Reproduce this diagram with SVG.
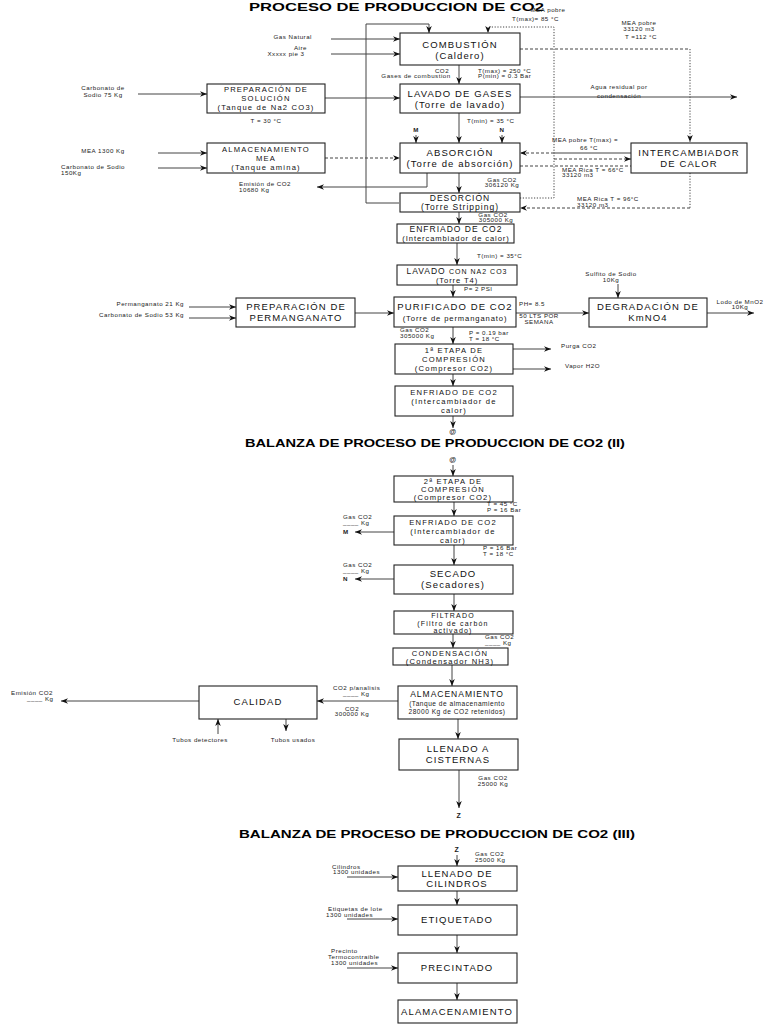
<svg xmlns="http://www.w3.org/2000/svg" width="768" height="1024" viewBox="0 0 768 1024">
<style>
.bx{fill:#fff;stroke:#222;stroke-width:1.1}
.t{font-family:"Liberation Sans",Arial,sans-serif;font-size:9.5px;text-anchor:middle;letter-spacing:1.1px;fill:#111}
.t2{font-family:"Liberation Sans",Arial,sans-serif;font-size:8.5px;text-anchor:middle;letter-spacing:1px;fill:#111}
.t3{font-family:"Liberation Sans",Arial,sans-serif;font-size:7.6px;text-anchor:middle;letter-spacing:1.2px;fill:#111}
.t8{font-family:"Liberation Sans",Arial,sans-serif;font-size:7.6px;text-anchor:middle;letter-spacing:0.9px;fill:#111}
.s{font-family:"Liberation Sans",Arial,sans-serif;font-size:6.2px;letter-spacing:0.5px;fill:#222}
.c{text-anchor:middle}
.e{text-anchor:end}
.b{font-weight:bold}
.ti{font-family:"Liberation Sans",Arial,sans-serif;font-size:11px;font-weight:bold;fill:#000}
.ln{fill:none;stroke:#444;stroke-width:1}
.ds{stroke-dasharray:3,2}
.dt{stroke-dasharray:1.2,1.6}
</style>
<defs>
<marker id="a" viewBox="0 0 10 10" refX="10" refY="5" markerWidth="7" markerHeight="7" markerUnits="userSpaceOnUse" orient="auto">
<path d="M0,1 L10,5 L0,9 L3,5 z" fill="#111"/>
</marker>
</defs>
<rect width="768" height="1024" fill="#fff"/>

<text class="ti" x="249" y="11" textLength="295" lengthAdjust="spacingAndGlyphs">PROCESO DE PRODUCCION DE CO2</text>
<text class="ti" x="245" y="447" textLength="380" lengthAdjust="spacingAndGlyphs">BALANZA DE PROCESO DE PRODUCCION DE CO2 (II)</text>
<text class="ti" x="239" y="838" textLength="396" lengthAdjust="spacingAndGlyphs">BALANZA DE PROCESO DE PRODUCCION DE CO2 (III)</text>

<g id="connectors">
<line class="ln" x1="331" y1="39" x2="400" y2="39" marker-end="url(#a)"/>
<line class="ln" x1="331" y1="54" x2="400" y2="54" marker-end="url(#a)"/>
<polyline class="ln" points="399,203 366,203 366,24 429,24 429,33" marker-end="url(#a)"/>
<polyline class="ln dt" points="520,198 554,198 554,27 488,27 488,33" marker-end="url(#a)"/>
<polyline class="ln ds" points="520,49 690,49"/>
<polyline class="ln dt" points="690,49 690,142" marker-end="url(#a)"/>
<line class="ln" x1="459" y1="65" x2="459" y2="84" marker-end="url(#a)"/>
<line class="ln" x1="325" y1="98" x2="400" y2="98" marker-end="url(#a)"/>
<line class="ln" x1="138" y1="94" x2="207" y2="94" marker-end="url(#a)"/>
<line class="ln" x1="520" y1="97" x2="737" y2="97" marker-end="url(#a)"/>
<line class="ln" x1="459" y1="113" x2="459" y2="143" marker-end="url(#a)"/>
<line class="ln" x1="416" y1="135" x2="416" y2="143" marker-end="url(#a)"/>
<line class="ln" x1="502" y1="135" x2="502" y2="143" marker-end="url(#a)"/>
<line class="ln" x1="158" y1="153" x2="207" y2="153" marker-end="url(#a)"/>
<line class="ln" x1="158" y1="168" x2="207" y2="168" marker-end="url(#a)"/>
<line class="ln ds" x1="325" y1="158" x2="400" y2="158" marker-end="url(#a)"/>
<line class="ln" x1="631" y1="153" x2="554" y2="153"/>
<line class="ln ds" x1="554" y1="153" x2="520" y2="153" marker-end="url(#a)"/>
<line class="ln ds" x1="554" y1="159" x2="631" y2="159" marker-end="url(#a)"/>
<line class="ln ds" x1="520" y1="166" x2="631" y2="166"/>
<polyline class="ln" points="427,173 427,187 317,187" marker-end="url(#a)"/>
<line class="ln" x1="459" y1="173" x2="459" y2="193" marker-end="url(#a)"/>
<polyline class="ln dt" points="690,173 690,208"/>
<polyline class="ln ds" points="690,208 520,208" marker-end="url(#a)"/>
<line class="ln" x1="459" y1="212" x2="459" y2="224" marker-end="url(#a)"/>
<line class="ln" x1="457" y1="243" x2="457" y2="265" marker-end="url(#a)"/>
<line class="ln" x1="453" y1="285" x2="453" y2="297" marker-end="url(#a)"/>
<line class="ln" x1="189" y1="307" x2="236" y2="307" marker-end="url(#a)"/>
<line class="ln" x1="189" y1="318" x2="236" y2="318" marker-end="url(#a)"/>
<line class="ln" x1="355" y1="313" x2="394" y2="313" marker-end="url(#a)"/>
<line class="ln" x1="516" y1="313" x2="589" y2="313" marker-end="url(#a)"/>
<line class="ln" x1="618" y1="284" x2="618" y2="298" marker-end="url(#a)"/>
<line class="ln" x1="707" y1="313" x2="754" y2="313" marker-end="url(#a)"/>
<line class="ln" x1="453" y1="327" x2="453" y2="344" marker-end="url(#a)"/>
<line class="ln" x1="513" y1="349" x2="551" y2="349" marker-end="url(#a)"/>
<line class="ln" x1="513" y1="369" x2="551" y2="369" marker-end="url(#a)"/>
<line class="ln" x1="453" y1="374" x2="453" y2="386" marker-end="url(#a)"/>
<line class="ln" x1="453" y1="416" x2="453" y2="428" marker-end="url(#a)"/>

<line class="ln" x1="453" y1="465" x2="453" y2="476" marker-end="url(#a)"/>
<line class="ln" x1="454" y1="502" x2="454" y2="516" marker-end="url(#a)"/>
<line class="ln" x1="394" y1="532" x2="355" y2="532" marker-end="url(#a)"/>
<line class="ln" x1="454" y1="545" x2="454" y2="565" marker-end="url(#a)"/>
<line class="ln" x1="394" y1="579" x2="355" y2="579" marker-end="url(#a)"/>
<line class="ln" x1="454" y1="594" x2="454" y2="611" marker-end="url(#a)"/>
<line class="ln" x1="453" y1="634" x2="453" y2="648" marker-end="url(#a)"/>
<line class="ln" x1="452" y1="665" x2="452" y2="686" marker-end="url(#a)"/>
<line class="ln" x1="398" y1="701" x2="317" y2="701" marker-end="url(#a)"/>
<line class="ln" x1="199" y1="701" x2="61" y2="701" marker-end="url(#a)"/>
<line class="ln" x1="218" y1="734" x2="218" y2="719" marker-end="url(#a)"/>
<line class="ln" x1="286" y1="719" x2="286" y2="731" marker-end="url(#a)"/>
<line class="ln" x1="458" y1="719" x2="458" y2="739" marker-end="url(#a)"/>
<line class="ln" x1="459" y1="770" x2="459" y2="808" marker-end="url(#a)"/>

<line class="ln" x1="457" y1="855" x2="457" y2="866" marker-end="url(#a)"/>
<line class="ln" x1="347" y1="877" x2="398" y2="877" marker-end="url(#a)"/>
<line class="ln" x1="457" y1="891" x2="457" y2="905" marker-end="url(#a)"/>
<line class="ln" x1="347" y1="919" x2="398" y2="919" marker-end="url(#a)"/>
<line class="ln" x1="457" y1="935" x2="457" y2="953" marker-end="url(#a)"/>
<line class="ln" x1="347" y1="968" x2="398" y2="968" marker-end="url(#a)"/>
<line class="ln" x1="457" y1="983" x2="457" y2="1000" marker-end="url(#a)"/>
</g>

<g id="combustion"><rect class="bx" x="400" y="33" width="120" height="32"/><text class="t" x="460" y="48">COMBUSTIÓN</text><text class="t" x="460" y="59">(Caldero)</text></g>
<g id="lavado_gases"><rect class="bx" x="400" y="84" width="120" height="29"/><text class="t" x="460" y="97">LAVADO DE GASES</text><text class="t" x="460" y="108">(Torre de lavado)</text></g>
<g id="prep_solucion"><rect class="bx" x="207" y="84" width="118" height="29"/><text class="t3" x="266" y="92">PREPARACIÓN DE</text><text class="t3" x="266" y="101">SOLUCIÓN</text><text class="t3" x="266" y="110">(Tanque de Na2 CO3)</text></g>
<g id="almac_mea"><rect class="bx" x="207" y="143" width="118" height="30"/><text class="t3" x="266" y="152">ALMACENAMIENTO</text><text class="t3" x="266" y="161">MEA</text><text class="t3" x="266" y="170">(Tanque amina)</text></g>
<g id="absorcion"><rect class="bx" x="400" y="143" width="120" height="30"/><text class="t" x="460" y="156">ABSORCIÓN</text><text class="t" x="460" y="167">(Torre de absorción)</text></g>
<g id="intercambiador"><rect class="bx" x="631" y="143" width="116" height="30"/><text class="t" x="689" y="156">INTERCAMBIADOR</text><text class="t" x="689" y="167">DE CALOR</text></g>
<g id="desorcion"><rect class="bx" x="400" y="193" width="120" height="19"/><text class="t2" x="460" y="201">DESORCIÓN</text><text class="t2" x="460" y="210">(Torre Stripping)</text></g>
<g id="enfriado1"><rect class="bx" x="397" y="224" width="117" height="19"/><text class="t2" x="456" y="232">ENFRIADO DE  CO2</text><text class="t8" x="456" y="241">(Intercambiador de calor)</text></g>
<g id="lavado_na2"><rect class="bx" x="397" y="265" width="120" height="20"/><text class="t2" x="457" y="274">LAVADO <tspan style="font-size:7px">CON NA2 CO3</tspan></text><text class="t8" x="457" y="283">(Torre T4)</text></g>
<g id="purificado"><rect class="bx" x="394" y="297" width="122" height="30"/><text class="t" x="455" y="310">PURIFICADO DE CO2</text><text class="t8" x="455" y="321">(Torre de permanganato)</text></g>
<g id="prep_perm"><rect class="bx" x="236" y="298" width="119" height="29"/><text class="t" x="296" y="310">PREPARACIÓN DE</text><text class="t" x="296" y="321">PERMANGANATO</text></g>
<g id="degradacion"><rect class="bx" x="589" y="298" width="118" height="29"/><text class="t" x="648" y="310">DEGRADACIÓN DE</text><text class="t" x="648" y="321">KmNO4</text></g>
<g id="compresion1"><rect class="bx" x="395" y="344" width="118" height="30"/><text class="t3" x="454" y="353">1ª ETAPA DE</text><text class="t3" x="454" y="362">COMPRESIÓN</text><text class="t3" x="454" y="371">(Compresor CO2)</text></g>
<g id="enfriado2"><rect class="bx" x="395" y="386" width="118" height="30"/><text class="t3" x="454" y="395">ENFRIADO DE CO2</text><text class="t3" x="454" y="404">(Intercambiador de</text><text class="t3" x="454" y="413">calor)</text></g>

<g id="compresion2"><rect class="bx" x="394" y="476" width="119" height="26"/><text class="t3" x="453" y="484">2ª ETAPA DE</text><text class="t3" x="453" y="492">COMPRESIÓN</text><text class="t3" x="453" y="500">(Compresor CO2)</text></g>
<g id="enfriado3"><rect class="bx" x="394" y="516" width="119" height="29"/><text class="t3" x="453" y="525">ENFRIADO DE CO2</text><text class="t3" x="453" y="534">(Intercambiador de</text><text class="t3" x="453" y="543">calor)</text></g>
<g id="secado"><rect class="bx" x="394" y="565" width="119" height="29"/><text class="t" x="453" y="577">SECADO</text><text class="t" x="453" y="588">(Secadores)</text></g>
<g id="filtrado"><rect class="bx" x="394" y="611" width="119" height="23"/><text class="t3" x="453" y="618" style="font-size:7px">FILTRADO</text><text class="t3" x="453" y="625.5" style="font-size:7px">(Filtro de carbón</text><text class="t3" x="453" y="633" style="font-size:7px">activado)</text></g>
<g id="condensacion"><rect class="bx" x="393" y="648" width="115" height="17"/><text class="t3" x="450" y="655.5">CONDENSACIÓN</text><text class="t3" x="450" y="663.5">(Condensador NH3)</text></g>
<g id="almacenamiento"><rect class="bx" x="398" y="686" width="119" height="33"/><text class="t2" x="457" y="697">ALMACENAMIENTO</text><text class="s c" x="457" y="706" style="font-size:6.6px">(Tanque de almacenamiento</text><text class="s c" x="457" y="714" style="font-size:6.6px">28000 Kg de CO2 retenidos)</text></g>
<g id="calidad"><rect class="bx" x="199" y="686" width="118" height="33"/><text class="t" x="258" y="705">CALIDAD</text></g>
<g id="cisternas"><rect class="bx" x="399" y="739" width="119" height="31"/><text class="t" x="458" y="752">LLENADO A</text><text class="t" x="458" y="763">CISTERNAS</text></g>

<g id="llenado_cilindros"><rect class="bx" x="398" y="866" width="119" height="25"/><text class="t" x="457" y="877">LLENADO DE</text><text class="t" x="457" y="887">CILINDROS</text></g>
<g id="etiquetado"><rect class="bx" x="398" y="905" width="119" height="30"/><text class="t" x="457" y="923">ETIQUETADO</text></g>
<g id="precintado"><rect class="bx" x="398" y="953" width="119" height="30"/><text class="t" x="457" y="971">PRECINTADO</text></g>
<g id="alamacenamiento"><rect class="bx" x="398" y="1000" width="119" height="23"/><text class="t" x="457" y="1015">ALAMACENAMIENTO</text></g>

<g id="labels">
<text class="s e" x="312" y="39">Gas Natural</text>
<text class="s e" x="307" y="50">Aire</text>
<text class="s c" x="286" y="56">Xxxxx pie 3</text>
<text class="s c" x="103" y="90">Carbonato de</text>
<text class="s c" x="103" y="97">Sodio 75 Kg</text>
<text class="s c" x="266" y="123">T = 30 °C</text>
<text class="s c" x="103" y="153">MEA 1300 Kg</text>
<text class="s" x="61" y="169">Carbonato de Sodio</text>
<text class="s" x="61" y="175">150Kg</text>
<text class="s" x="239" y="186">Emisión de CO2</text>
<text class="s" x="239" y="192">10680 Kg</text>
<text class="s c" x="548" y="12">MEA pobre</text>
<text class="s" x="512" y="21">T(max)= 85 °C</text>
<text class="s c" x="639" y="25">MEA pobre</text>
<text class="s c" x="639" y="31">33120 m3</text>
<text class="s c" x="641" y="39">T =112 °C</text>
<text class="s c" x="442" y="73">CO2</text>
<text class="s c" x="416" y="78">Gases de combustion</text>
<text class="s" x="478" y="73">T(max) = 250 °C</text>
<text class="s" x="478" y="78">P(min) = 0.3 Bar</text>
<text class="s c" x="619" y="89">Agua residual por</text>
<text class="s c" x="619" y="98">condensación</text>
<text class="s" x="467" y="123">T(min) = 35 °C</text>
<text class="s c b" x="416" y="132">M</text>
<text class="s c b" x="502" y="132">N</text>
<text class="s" x="552" y="142">MEA pobre T(max) =</text>
<text class="s c" x="589" y="150">66 °C</text>
<text class="s" x="562" y="172">MEA Rica T = 66°C</text>
<text class="s" x="562" y="177">33120 m3</text>
<text class="s c" x="502" y="182">Gas CO2</text>
<text class="s c" x="502" y="187">306120 Kg</text>
<text class="s" x="577" y="201">MEA Rica T = 96°C</text>
<text class="s" x="577" y="207">33120 m3</text>
<text class="s c" x="493" y="217">Gas CO2</text>
<text class="s c" x="496" y="222">305000 Kg</text>
<text class="s" x="477" y="258">T(min) = 35°C</text>
<text class="s" x="464" y="291">P= 2 PSI</text>
<text class="s c" x="611" y="276">Sulfito de Sodio</text>
<text class="s c" x="611" y="282">10Kg</text>
<text class="s" x="519" y="306">PH= 8.5</text>
<text class="s c" x="539" y="318">50 LTS POR</text>
<text class="s c" x="539" y="324">SEMANA</text>
<text class="s c" x="740" y="304">Lodo de MnO2</text>
<text class="s c" x="740" y="309">10Kg</text>
<text class="s e" x="184" y="306">Permanganato 21 Kg</text>
<text class="s e" x="184" y="317">Carbonato de Sodio 53 Kg</text>
<text class="s" x="400" y="332">Gas CO2</text>
<text class="s" x="400" y="338">305000 Kg</text>
<text class="s" x="469" y="335">P = 0.19 bar</text>
<text class="s" x="469" y="341">T = 18 °C</text>
<text class="s" x="561" y="348">Purga CO2</text>
<text class="s" x="565" y="368">Vapor H2O</text>
<text class="s c b" x="453" y="434" style="font-size:7px">@</text>
<text class="s c b" x="453" y="462" style="font-size:7px">@</text>
<text class="s" x="487" y="506">T = 45 °C</text>
<text class="s" x="487" y="512">P = 16 Bar</text>
<text class="s" x="343" y="519">Gas CO2</text>
<text class="s" x="343" y="525">____ Kg</text>
<text class="s b" x="343" y="534">M</text>
<text class="s" x="483" y="550">P = 16 Bar</text>
<text class="s" x="483" y="556">T = 18 °C</text>
<text class="s" x="343" y="567">Gas CO2</text>
<text class="s" x="343" y="573">____ Kg</text>
<text class="s b" x="343" y="581">N</text>
<text class="s" x="485" y="639">Gas CO2</text>
<text class="s" x="485" y="645">____ Kg</text>
<text class="s" x="333" y="690">CO2 p/analisis</text>
<text class="s" x="343" y="696">____ Kg</text>
<text class="s c" x="352" y="711">CO2</text>
<text class="s c" x="352" y="716">300000 Kg</text>
<text class="s c" x="32" y="695">Emisión CO2</text>
<text class="s" x="27" y="701">____ Kg</text>
<text class="s c" x="200" y="742">Tubos detectores</text>
<text class="s c" x="293" y="742">Tubos usados</text>
<text class="s c" x="493" y="780">Gas CO2</text>
<text class="s c" x="493" y="786">25000 Kg</text>
<text class="s c b" x="459" y="818" style="font-size:7px">Z</text>
<text class="s c b" x="457" y="852" style="font-size:7px">Z</text>
<text class="s" x="475" y="856">Gas CO2</text>
<text class="s" x="475" y="862">25000 Kg</text>
<text class="s" x="332" y="869">Cilindros</text>
<text class="s" x="333" y="874">1300 unidades</text>
<text class="s" x="328" y="911">Etiquetas de lote</text>
<text class="s" x="326" y="917">1300 unidades</text>
<text class="s" x="331" y="953">Precinto</text>
<text class="s" x="328" y="959">Termocontraible</text>
<text class="s" x="331" y="965">1300 unidades</text>
</g>
</svg>
